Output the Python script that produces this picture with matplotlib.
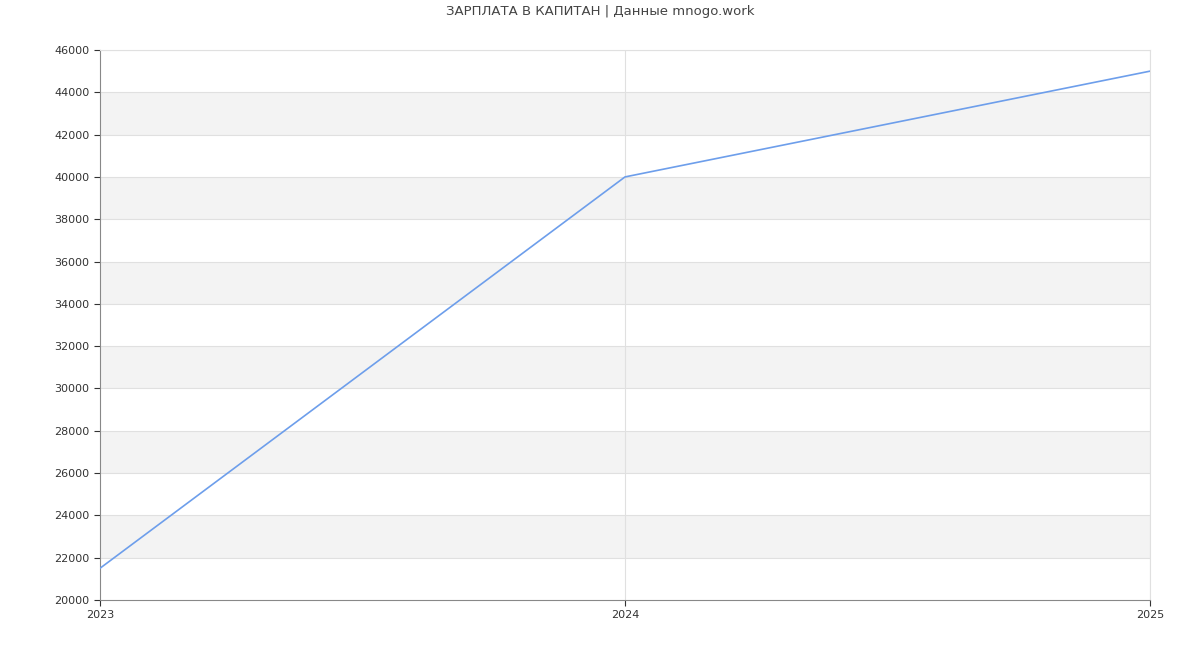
import matplotlib
matplotlib.use("Agg")
import matplotlib.pyplot as plt

# data
years = [2023, 2024, 2025]
salary = [21500, 40000, 45000]
y_ticks = list(range(20000, 46001, 2000))

title = "ЗАРПЛАТА В КАПИТАН | Данные mnogo.work"

fig = plt.figure(figsize=(12, 6.5), dpi=100)
ax = fig.add_axes([100 / 1200, 50 / 650, 1050 / 1200, 550 / 650])

ax.set_xlim(years[0], years[-1])
ax.set_ylim(y_ticks[0], y_ticks[-1])

# alternating grey bands
for i in range(1, len(y_ticks) - 1, 2):
    ax.axhspan(y_ticks[i], y_ticks[i + 1], color="#f3f3f3", zorder=0, lw=0)

for y in y_ticks[1:]:
    ax.axhline(y, color="#e0e0e0", lw=0.8, zorder=1)
for x in years[1:]:
    ax.axvline(x, color="#e0e0e0", lw=0.8, zorder=1)

ax.plot(years, salary, color="#6d9eeb", lw=1.2, zorder=3)

ax.set_xticks(years)
ax.set_xticklabels([str(y) for y in years])
ax.set_yticks(y_ticks)
ax.tick_params(labelsize=8, colors="#333333", length=4)
ax.tick_params(axis="x", colors="#333333")
for lbl in ax.get_xticklabels():
    lbl.set_color("#333333")

for side in ["left", "bottom"]:
    ax.spines[side].set_color("#888888")
    ax.spines[side].set_linewidth(0.8)
for side in ["top", "right"]:
    ax.spines[side].set_color("#e0e0e0")
    ax.spines[side].set_linewidth(0.8)

fig.text(0.5, 1 - 12 / 650, title, ha="center", va="center",
         fontsize=9.5, color="#444444")

fig.savefig("out.png", dpi=100)
